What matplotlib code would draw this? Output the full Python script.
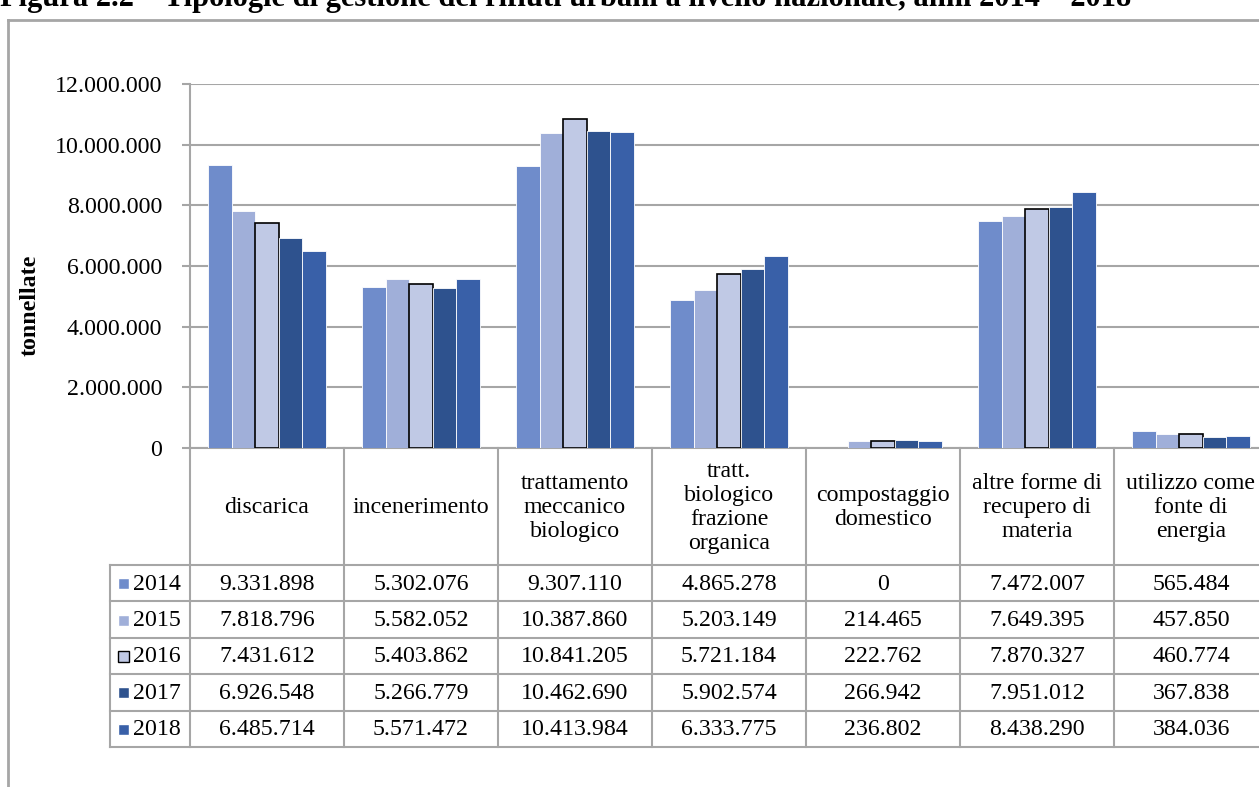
import matplotlib.pyplot as plt
from matplotlib.patches import Rectangle
from matplotlib.lines import Line2D

# dati (tonnellate)
categorie = ["discarica", "incenerimento", "trattamento\nmeccanico\nbiologico",
             "tratt.\nbiologico\nfrazione\norganica", "compostaggio\ndomestico",
             "altre forme di\nrecupero di\nmateria", "utilizzo come\nfonte di\nenergia"]
anni = ["2014", "2015", "2016", "2017", "2018"]
v2014 = [9331898, 5302076, 9307110, 4865278, 0, 7472007, 565484]
v2015 = [7818796, 5582052, 10387860, 5203149, 214465, 7649395, 457850]
v2016 = [7431612, 5403862, 10841205, 5721184, 222762, 7870327, 460774]
v2017 = [6926548, 5266779, 10462690, 5902574, 266942, 7951012, 367838]
v2018 = [6485714, 5571472, 10413984, 6333775, 236802, 8438290, 384036]
serie = [v2014, v2015, v2016, v2017, v2018]
colori = ["#6f8ccb", "#a0afd9", "#c0c9e5", "#2e528e", "#3960a8"]
bordi = ["white", "white", "black", "white", "white"]

W, H = 1259, 787
fig = plt.figure(figsize=(W / 100, H / 100), dpi=100)
plt.rcParams['font.family'] = ['Liberation Serif', 'DejaVu Serif']
GRIGIO = "#a6a6a6"
FS = 17.2


def fx(px):
    return px / W


def fy(py):
    return 1 - py / H


def riga(x0, y0, x1, y1, lw=1.5):
    fig.add_artist(Line2D([fx(x0), fx(x1)], [fy(y0), fy(y1)], color=GRIGIO, lw=lw,
                          transform=fig.transFigure))


# cornice esterna
riga(8, 20, 8, H + 5, lw=2)
riga(8, 20, W + 5, 20, lw=2)

# titolo (tagliato in alto come nell'originale)
fig.text(0, fy(6), "Figura 2.2 \u2013 Tipologie di gestione dei rifiuti urbani a livello nazionale, anni 2014 \u2013 2018",
         fontsize=22, fontweight="bold", va="baseline", ha="left")

# grafico
x_left, x_right, y_top, y_zero = 190, 1268, 84, 448
ax = fig.add_axes([fx(x_left), fy(y_zero), fx(x_right - x_left), (y_zero - y_top) / H])
w = 0.1526
for j in range(len(anni)):
    xs = [i + 0.5 + (j - 2) * w for i in range(len(categorie))]
    ax.bar(xs, serie[j], width=w, color=colori[j], edgecolor=bordi[j],
           linewidth=1.2 if bordi[j] == "black" else 0.6, zorder=3)

ax.set_xlim(0, len(categorie))
ax.set_ylim(0, 12000000)
ax.set_yticks(range(0, 12000001, 2000000))
ax.set_yticklabels([f"{t:,}".replace(",", ".") for t in range(0, 12000001, 2000000)], fontsize=FS)
ax.set_xticks([])
ax.grid(axis="y", color=GRIGIO, lw=1.5, zorder=0)
for s in ["top", "right"]:
    ax.spines[s].set_visible(False)
ax.spines["left"].set_color(GRIGIO)
ax.spines["left"].set_linewidth(1.5)
ax.spines["bottom"].set_color(GRIGIO)
ax.spines["bottom"].set_linewidth(1.5)
ax.tick_params(axis="y", color=GRIGIO, length=6, width=1.5, pad=14)

fig.text(fx(30), fy(305), "tonnellate", rotation=90, fontsize=FS, fontweight="bold",
         ha="center", va="center")

# tabella dati
col_w = 154
header_bottom = 565
row_h = 36.4
n_rows = len(anni)
table_bottom = header_bottom + n_rows * row_h
label_left = 110

# linee orizzontali
riga(label_left, header_bottom, x_right, header_bottom)
for r in range(1, n_rows + 1):
    riga(label_left, header_bottom + r * row_h, x_right, header_bottom + r * row_h)
# linee verticali
riga(label_left, header_bottom, label_left, table_bottom)
for i in range(len(categorie) + 1):
    riga(x_left + i * col_w, y_zero, x_left + i * col_w, table_bottom)

for i, cat in enumerate(categorie):
    fig.text(fx(x_left + (i + 0.5) * col_w), fy((y_zero + header_bottom) / 2 + 1), cat,
             fontsize=FS, ha="center", va="center", linespacing=1.2, multialignment="center")

for r, anno in enumerate(anni):
    yc = header_bottom + (r + 0.5) * row_h
    fig.add_artist(Rectangle((fx(118), fy(yc + 6)), fx(11), 11 / H, facecolor=colori[r],
                             edgecolor="black" if bordi[r] == "black" else "white",
                             lw=1.0, transform=fig.transFigure))
    fig.text(fx(133), fy(yc + 1), anno, fontsize=FS, ha="left", va="center")
    for i, v in enumerate(serie[r]):
        fig.text(fx(x_left + (i + 0.5) * col_w), fy(yc + 1), f"{v:,}".replace(",", "."),
                 fontsize=FS, ha="center", va="center")

fig.savefig("out.png", dpi=100)
